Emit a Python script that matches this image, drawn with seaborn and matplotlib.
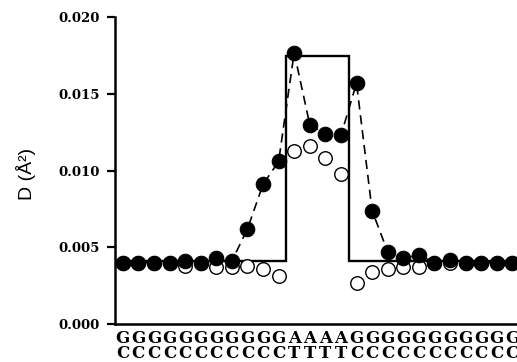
import matplotlib
matplotlib.use('Agg')
import matplotlib.pyplot as plt
import seaborn as sns
import numpy as np
import pandas as pd

# sequence (top strand / bottom strand)
top_strand = list("GGGGGGGGGGGAAAAGGGGGGGGGGG")
bottom_strand = list("CCCCCCCCCCCTTTTCCCCCCCCCCC")

# filled circles (dashed line)
d_filled = [0.0040, 0.0040, 0.0040, 0.0040, 0.0041, 0.0040, 0.0043, 0.0041,
            0.0062, 0.0091, 0.0106, 0.0177, 0.0130, 0.0124, 0.0123, 0.0157,
            0.0074, 0.0047, 0.0043, 0.0045, 0.0040, 0.0042, 0.0040, 0.0040,
            0.0040, 0.0040]
# open circles
d_open = [0.0040, 0.0040, 0.0040, 0.0040, 0.0038, 0.0040, 0.0037, 0.0037,
          0.0038, 0.0036, 0.0031, 0.0113, 0.0116, 0.0108, 0.0098, 0.0027,
          0.0034, 0.0036, 0.0037, 0.0037, 0.0040, 0.0040, 0.0040, 0.0040,
          0.0040, 0.0040]
# step (box) model
d_box = [0.0041] * 11 + [0.0175] * 4 + [0.0041] * 11

y_ticks = [0.000, 0.005, 0.010, 0.015, 0.020]

pos = np.arange(len(top_strand))
df = pd.DataFrame({'pos': pos, 'filled': d_filled, 'open': d_open})

sns.set_style('ticks', {'axes.edgecolor': 'black', 'text.color': 'black',
                        'xtick.color': 'black', 'ytick.color': 'black'})
fig = plt.figure(figsize=(5.17, 3.62), dpi=100)
ax = fig.add_axes([115/517, 1 - 324/362, 1 - 115/517, (324 - 17.3)/362])

# box model
ax.stairs(d_box, np.arange(len(d_box) + 1) - 0.5, baseline=None,
          color='black', lw=1.7, zorder=2)

# open circles
sns.scatterplot(data=df, x='pos', y='open', ax=ax, s=95, facecolor='white',
                edgecolor='black', linewidth=1.0, zorder=3, legend=False)

# filled circles with dashed line
sns.lineplot(data=df, x='pos', y='filled', ax=ax, color='black', lw=1.2,
             linestyle=(0, (5.5, 3.5)), marker='o', markersize=10.5,
             markerfacecolor='black', markeredgecolor='black', zorder=4)

ax.set_xlim(-0.5, 25.3)
ax.set_ylim(0, 0.020)
ax.set_yticks(y_ticks)
ax.set_yticklabels([f'{v:.3f}' for v in y_ticks], fontfamily='DejaVu Serif',
                   fontweight='bold', fontsize=9.5)
ax.set_xticks(pos)
ax.set_xticklabels([f'{t}\n{b}' for t, b in zip(top_strand, bottom_strand)],
                   fontfamily='DejaVu Serif', fontweight='bold', fontsize=12)
for lab in ax.get_xticklabels():
    lab.set_linespacing(0.85)
ax.tick_params(axis='x', length=0, pad=4)
ax.tick_params(axis='y', length=6, width=1.6, pad=5, direction='out')
ax.set_xlabel('')
ax.set_ylabel('')
sns.despine(ax=ax)
for s in ['left', 'bottom']:
    ax.spines[s].set_linewidth(1.8)

fig.text(25.5/517, 1 - 174/362, 'D (Å²)', rotation=90, ha='center', va='center',
         fontfamily='Liberation Sans', fontsize=14)

fig.savefig('out.png', dpi=100)
